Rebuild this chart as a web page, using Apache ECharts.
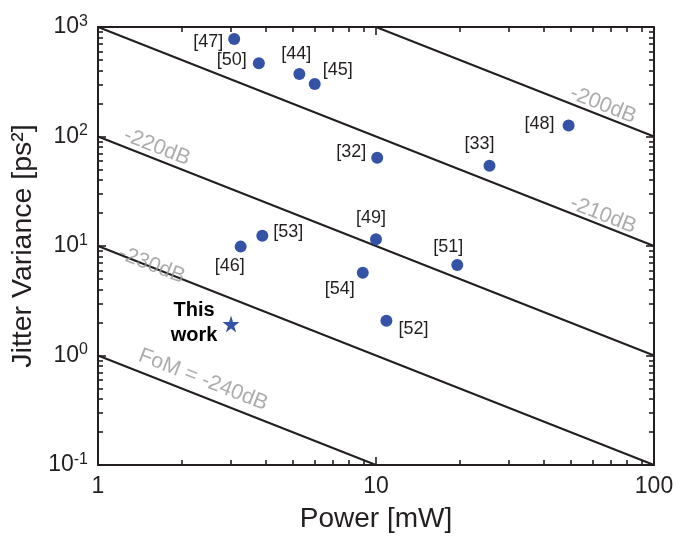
<!DOCTYPE html>
<html><head><meta charset="utf-8">
<script src="https://cdn.jsdelivr.net/npm/echarts@6/dist/echarts.min.js"></script>
<style>html,body{margin:0;padding:0;background:#fff}#c{width:682px;height:538px}</style>
</head><body><div id="c"></div>
<script>
// ---- data ----
const refNames  = ['[47]','[50]','[44]','[45]','[32]','[33]','[48]','[49]','[51]','[53]','[46]','[54]','[52]'];
const powerMW   = [3.09, 3.79, 5.30, 6.02, 10.1, 25.6, 49.3, 10.0, 19.6, 3.90, 3.26, 8.96, 10.9];
const jitterPs2 = [777,  466,  372,  301,  64,   54,   126,  11.5, 6.7,  12.4, 9.87, 5.7,  2.08];
const thisWorkName   = ['This\nwork'];
const thisWorkPower  = [3.01];
const thisWorkJitter = [1.94];
const fomNames     = ['-200dB','-210dB','-220dB','-230dB','FoM = -240dB'];
const fomLineStart = [[10,1000],[1,1000],[1,100],[1,10],[1,1]];
const fomLineEnd   = [[100,100],[100,10],[100,1],[100,0.1],[10,0.1]];
const fomLabelAt   = [[65.6,194],[65.6,19.2],[1.63,80],[1.56,6.7],[2.39,0.60]];
const xMinorTicks = [2,3,4,5,6,7,8,9,20,30,40,50,60,70,80,90];
const yMinorTicks = [0.2,0.3,0.4,0.5,0.6,0.7,0.8,0.9,2,3,4,5,6,7,8,9,20,30,40,50,60,70,80,90,200,300,400,500,600,700,800,900];

// ---- styling ----
const labelOffsets = {
  '[47]':[-26,3], '[50]':[-27,-3], '[44]':[-3,-20], '[45]':[23,-14], '[32]':[-26,-6],
  '[33]':[-10,-22], '[48]':[-29,-1], '[49]':[-5,-21], '[51]':[-9,-18], '[53]':[26,-4],
  '[46]':[-11,19], '[54]':[-23,16], '[52]':[27,8]
};
const INK = '#231f20';
const DOT = '#3452a6';
const FONT = 'Liberation Sans';
const STAR = 'path://M50,0 L61,35 L98,35 L68,57 L79,91 L50,70 L21,91 L32,57 L2,35 L39,35 Z';

const chart = echarts.init(document.getElementById('c'));
const gridRect = {left:98, right:28, top:27, bottom:73, containLabel:false, outerBoundsMode:'none'};

function majorAxis(pos, isX, withLabels){
  return {
    gridIndex:0, type:'log', logBase:10, position:pos,
    min: isX ? 1 : 0.1, max: isX ? 100 : 1000,
    axisLine:{show:true, onZero:false, lineStyle:{color:INK, width:2}},
    axisTick:{show:true, inside:true, length:8, lineStyle:{color:INK, width:1.6}},
    splitLine:{show:false}, minorTick:{show:false},
    axisLabel:{show:withLabels}
  };
}
function minorAxis(pos, isX, ticks){
  const lo = isX ? 0 : -1, hi = isX ? 2 : 3;
  return {
    gridIndex:1, type:'value', position:pos, min:lo, max:hi,
    axisLine:{show:false, onZero:false},
    axisTick:{show:true, inside:true, length:5, lineStyle:{color:INK, width:1.6},
      customValues: ticks.map(v => Math.log10(v))},
    axisLabel:{show:false}, splitLine:{show:false}
  };
}

const xMain = majorAxis('bottom', true, true);
xMain.axisLabel = {show:true, margin:10, color:INK, fontFamily:FONT, fontSize:23,
  formatter: v => String(Math.round(v))};
xMain.name = 'Power [mW]';
xMain.nameLocation = 'middle';
xMain.nameGap = 40;
xMain.nameTextStyle = {color:INK, fontFamily:FONT, fontSize:28};

const yMain = majorAxis('left', false, true);
yMain.axisLabel = {show:true, margin:10, color:INK, fontFamily:FONT,
  formatter: v => '{b|10}{s|' + Math.round(Math.log10(v)) + '}',
  rich:{ b:{fontSize:23, fontFamily:FONT, color:INK},
         s:{fontSize:16, fontFamily:FONT, color:INK, padding:[0,0,11,0]} }};
yMain.name = 'Jitter Variance [ps²]';
yMain.nameLocation = 'middle';
yMain.nameGap = 60;
yMain.nameTextStyle = {color:INK, fontFamily:FONT, fontSize:28.5};

const series = [];
for (let i = 0; i < fomNames.length; i++) {
  series.push({
    type:'line', xAxisIndex:0, yAxisIndex:0, silent:true, symbol:'none',
    lineStyle:{color:INK, width:2}, clip:true,
    data:[fomLineStart[i], fomLineEnd[i]], z:2
  });
}
series.push({
  type:'scatter', xAxisIndex:0, yAxisIndex:0, silent:true, symbolSize:0,
  data: fomNames.map((n,i)=>({name:n, value:fomLabelAt[i]})),
  label:{show:true, position:'inside', formatter:'{b}', rotate:-21.5,
    color:'#979797', fontFamily:FONT, fontSize:21.5}, z:3
});
series.push({
  type:'scatter', xAxisIndex:0, yAxisIndex:0, symbol:'circle', symbolSize:12,
  itemStyle:{color:DOT, opacity:1},
  data: refNames.map((n,i)=>({name:n, value:[powerMW[i], jitterPs2[i]],
    label:{offset: labelOffsets[n]}})),
  label:{show:true, position:'inside', formatter:'{b}', color:INK, fontFamily:FONT, fontSize:18},
  z:5
});
series.push({
  type:'scatter', xAxisIndex:0, yAxisIndex:0, symbol:STAR, symbolSize:17,
  itemStyle:{color:DOT, opacity:1},
  data: thisWorkName.map((n,i)=>({name:n, value:[thisWorkPower[i], thisWorkJitter[i]]})),
  label:{show:true, position:'inside', offset:[-37,-1], formatter:'{b}', color:'#000',
    fontFamily:FONT, fontSize:20, fontWeight:'bold', lineHeight:25, align:'center'},
  z:5
});

chart.setOption({
  animation:false,
  backgroundColor:'#fff',
  grid:[Object.assign({}, gridRect), Object.assign({}, gridRect)],
  xAxis:[xMain, majorAxis('top', true, false),
         minorAxis('bottom', true, xMinorTicks), minorAxis('top', true, xMinorTicks)],
  yAxis:[yMain, majorAxis('right', false, false),
         minorAxis('left', false, yMinorTicks), minorAxis('right', false, yMinorTicks)],
  series:series
});
</script></body></html>
